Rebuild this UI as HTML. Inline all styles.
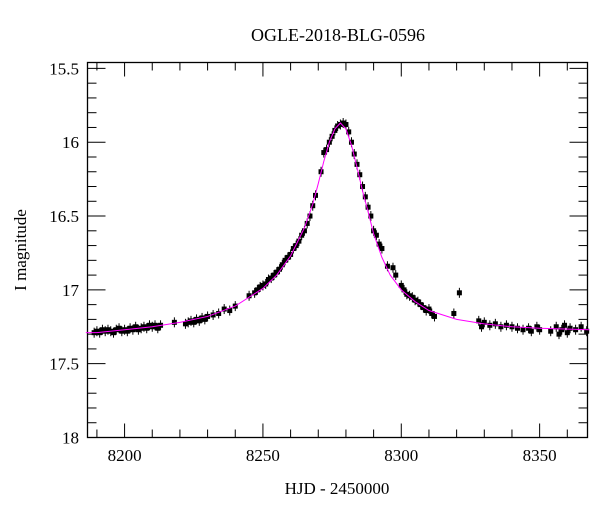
<!DOCTYPE html>
<html><head><meta charset="utf-8"><style>
body{margin:0;background:#fff;}
svg text{font-family:"Liberation Serif",serif;fill:#000;}
</style></head><body>
<svg id="chart" width="600" height="512" xmlns="http://www.w3.org/2000/svg">
<text x="338" y="41" font-size="18" text-anchor="middle">OGLE-2018-BLG-0596</text>
<text x="337" y="494" font-size="17" text-anchor="middle">HJD - 2450000</text>
<text transform="translate(26,250) rotate(-90)" font-size="17" text-anchor="middle">I magnitude</text>
<g id="ticks"></g>
<g id="model"></g>
<g id="points"></g>
<rect x="87.5" y="62.5" width="500" height="375" fill="none" stroke="#000" stroke-width="1.3"/>
</svg>
<script>
const xTicks=[8200,8250,8300,8350];
const yTicks=[15.5,16,16.5,17,17.5,18];
const yTickLabels=["15.5","16","16.5","17","17.5","18"];
const modelT=[8186,8190,8200,8210,8220,8230,8240,8250,8255,8260,8265,8268,8270,8272,8274,8276,8278,8280,8282,8284,8286,8288,8290,8293,8296,8300,8305,8310,8320,8330,8340,8350,8368];
const modelMag=[17.29,17.29,17.27,17.25,17.22,17.18,17.11,16.99,16.90,16.77,16.58,16.42,16.28,16.13,16.00,15.91,15.87,15.91,16.02,16.17,16.33,16.47,16.62,16.78,16.90,17.00,17.08,17.14,17.20,17.23,17.25,17.26,17.27];
const dataT=[8189,8190,8191,8192,8193,8194,8195,8196,8197,8198,8199,8200,8201,8202,8203,8204,8205,8206,8207,8208,8209,8210,8211,8212,8213,8218,8222,8223,8224,8225,8226,8227,8228,8229,8230,8232,8234,8236,8238,8240,8245,8247,8248,8249,8250,8251,8252,8253,8254,8255,8256,8257,8258,8259,8260,8261,8262,8263,8264,8265,8266,8267,8268,8269,8271,8272,8273,8274,8275,8276,8277,8278,8279,8280,8281,8282,8283,8284,8285,8286,8287,8288,8289,8290,8291,8292,8293,8295,8297,8298,8300,8301,8302,8303,8304,8305,8306,8307,8308,8309,8310,8311,8312,8319,8321,8328,8329,8330,8332,8334,8336,8338,8340,8342,8344,8346,8347,8349,8350,8354,8356,8357,8358,8359,8360,8361,8363,8365,8367];
const dataMag=[17.29,17.28,17.29,17.27,17.28,17.27,17.28,17.29,17.27,17.26,17.28,17.27,17.28,17.26,17.27,17.25,17.27,17.26,17.25,17.26,17.24,17.25,17.24,17.26,17.24,17.22,17.23,17.22,17.21,17.22,17.2,17.21,17.19,17.2,17.18,17.17,17.16,17.13,17.14,17.11,17.04,17.02,17.0,16.98,16.97,16.96,16.93,16.92,16.9,16.88,16.86,16.83,16.8,16.78,16.76,16.72,16.7,16.67,16.63,16.6,16.55,16.5,16.43,16.36,16.2,16.07,16.05,16.0,15.96,15.92,15.89,15.88,15.87,15.88,15.93,16.0,16.08,16.15,16.22,16.3,16.37,16.44,16.5,16.6,16.63,16.69,16.72,16.84,16.85,16.9,16.97,17.0,17.03,17.04,17.05,17.07,17.08,17.1,17.12,17.14,17.13,17.16,17.18,17.16,17.02,17.21,17.25,17.22,17.24,17.23,17.25,17.24,17.25,17.26,17.27,17.26,17.28,17.25,17.27,17.28,17.25,17.3,17.27,17.24,17.29,17.26,17.27,17.25,17.28];
const X0=87.5,X1=587.5,T0=8186.6,T1=8367.3,Y0=62.5,Y1=437.5,M0=15.46,M1=18.0;
function xs(t){return X0+(t-T0)/(T1-T0)*(X1-X0);}
function ys(m){return Y0+(m-M0)/(M1-M0)*(Y1-Y0);}
const NS="http://www.w3.org/2000/svg";
const tg=document.getElementById('ticks');
function line(x1,y1,x2,y2){const l=document.createElementNS(NS,'line');l.setAttribute('x1',x1);l.setAttribute('y1',y1);l.setAttribute('x2',x2);l.setAttribute('y2',y2);l.setAttribute('stroke','#000');l.setAttribute('stroke-width','1');


tg.appendChild(l);}
for(let t=8190;t<=8360;t+=10){const x=xs(t),big=t%50===0?14:8;line(x,Y1,x,Y1-big);line(x,Y0,x,Y0+big);}
for(let m=15.5;m<=18.001;m+=0.1){const y=ys(m),big=Math.abs(m*2-Math.round(m*2))<0.01?18:9;line(X0,y,X0+big,y);line(X1,y,X1-big,y);}
xTicks.forEach(t=>{const tx=document.createElementNS(NS,'text');tx.setAttribute('x',xs(t));tx.setAttribute('y',461);tx.setAttribute('font-size','17');tx.setAttribute('text-anchor','middle');tx.textContent=t;


tg.appendChild(tx);});
yTicks.forEach((m,i)=>{const tx=document.createElementNS(NS,'text');tx.setAttribute('x',79);tx.setAttribute('y',ys(m)+6);tx.setAttribute('font-size','17');tx.setAttribute('text-anchor','end');tx.textContent=yTickLabels[i];


tg.appendChild(tx);});
const pg=document.getElementById('points');
dataT.forEach((t,i)=>{const x=xs(t),y=ys(dataMag[i]);
const e=document.createElementNS(NS,'line');e.setAttribute('x1',x);e.setAttribute('x2',x);e.setAttribute('y1',y-5);e.setAttribute('y2',y+5);e.setAttribute('stroke','#000');


pg.appendChild(e);
const r=document.createElementNS(NS,'rect');r.setAttribute('x',x-2.5);r.setAttribute('y',y-2.5);r.setAttribute('width',5);r.setAttribute('height',5);r.setAttribute('fill','#000');


pg.appendChild(r);});
const p=document.createElementNS(NS,'polyline');
p.setAttribute('points',modelT.map((t,i)=>xs(t)+','+ys(modelMag[i])).join(' '));
p.setAttribute('fill','none');p.setAttribute('stroke','#ff00ff');p.setAttribute('stroke-width','1');


document.getElementById('model').appendChild(p);
document.getElementById('chart').appendChild(document.getElementById('model'));
</script>
</body></html>
